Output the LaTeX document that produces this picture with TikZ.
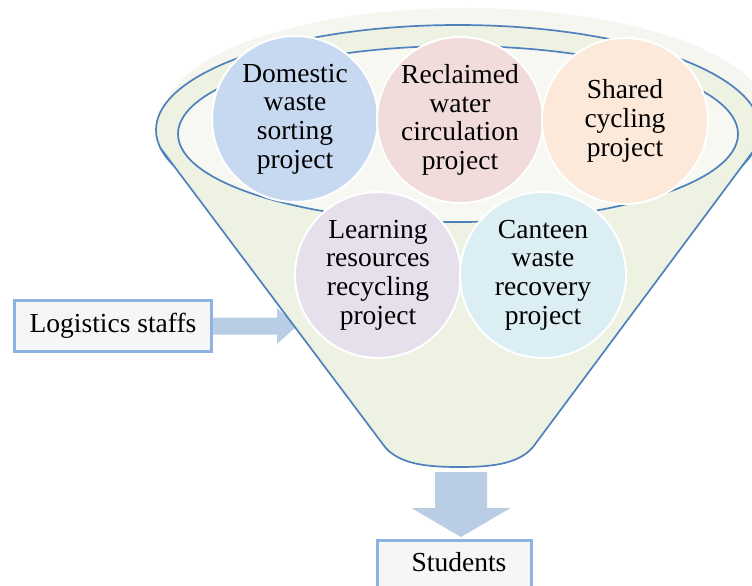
\documentclass[tikz,border=0pt]{standalone}
\usepackage{fontspec}
\setmainfont{Liberation Serif}
\usetikzlibrary{calc}
\definecolor{funline}{HTML}{4F81BD}
\definecolor{funfill}{HTML}{EDF2E3}
\definecolor{innerfill}{HTML}{F6F8F1}
\definecolor{glowfill}{HTML}{F4F6EF}
\definecolor{boxline}{HTML}{8DB3E2}
\definecolor{boxfill}{HTML}{F6F6F6}
\definecolor{arrfill}{HTML}{B9CDE5}
\definecolor{cA}{HTML}{C6D9F1}
\definecolor{cB}{HTML}{F2DCDB}
\definecolor{cC}{HTML}{FDE9D9}
\definecolor{cD}{HTML}{E5E0EC}
\definecolor{cE}{HTML}{DBEEF4}
\begin{document}
\begin{tikzpicture}[x=1pt,y=-1pt,
  proj/.style={circle, minimum size=166pt, inner sep=0pt, draw=white, line width=2pt, align=center, font=\fontsize{27.5}{28.7}\selectfont, text=black},
  sidebox/.style={rectangle, draw=boxline, line width=3pt, fill=boxfill, font=\fontsize{27.5}{30}\selectfont, inner sep=0pt},
  blockarrow/.style={fill=arrfill, draw=none},
  funnel/.style={draw=funline, line width=1.7pt}]
\clip (0,0) rectangle (752,586);
\fill[white] (0,0) rectangle (752,586);

% left box and its arrow
\coordinate (lt) at (297,326);
\fill[blockarrow] (lt) -- ($(lt)+(-20,-18)$) -- ($(lt)+(-20,-8.5)$) -- (213,317.5) -- (213,334.5) -- ($(lt)+(-20,8.5)$) -- ($(lt)+(-20,18)$) -- cycle;
\node[sidebox, minimum width=197pt, minimum height=51pt] (log) at (113,326) {Logistics staffs};

% funnel
\fill[glowfill] (466,116) ellipse [x radius=302, y radius=108];
\draw[funnel, fill=funfill] (458,130) ellipse [x radius=302, y radius=105];
\coordinate (cl) at (160.6,148.2);
\coordinate (cr) at (755.4,148.2);
\coordinate (bl) at (385,447);
\coordinate (br) at (533,447);
\coordinate (bm) at (459,467);
\fill[funfill] (cl) -- (cr) -- (br) .. controls (518,465) and (488,467) .. (bm) .. controls (430,467) and (400,465) .. (bl) -- cycle;
\draw[funnel, line join=round] (cl) -- (bl) .. controls (400,465) and (430,467) .. (bm) .. controls (488,467) and (518,465) .. (br) -- (cr);
\draw[funnel, fill=innerfill] (458,134) ellipse [x radius=280, y radius=88];

% project circles
\node[proj, fill=cA] (dom) at (295,119) {Domestic\\waste\\sorting\\project};
\node[proj, fill=cB] (rec) at (460,120) {Reclaimed\\water\\circulation\\project};
\node[proj, fill=cC] (sha) at (625,121) {Shared\\cycling\\project};
\node[proj, fill=cD] (lea) at (378,275) {Learning\\resources\\recycling\\project};
\node[proj, fill=cE] (can) at (543,275) {Canteen\\waste\\recovery\\project};

% students box and down arrow
\node[sidebox, anchor=north, minimum width=154pt, text height=31.5pt, text depth=30pt] (stu) at (454.5,538.5) {\hspace*{9pt}Students};
\coordinate (fb) at (461,472);
\coordinate (dt) at (461,537);
\fill[blockarrow] ($(fb)+(-26,0)$) -- ($(dt)+(-26,-29)$) -- ($(dt)+(-49.5,-29)$) -- (dt) -- ($(dt)+(49.5,-29)$) -- ($(dt)+(26,-29)$) -- ($(fb)+(26,0)$) -- cycle;
\end{tikzpicture}
\end{document}
